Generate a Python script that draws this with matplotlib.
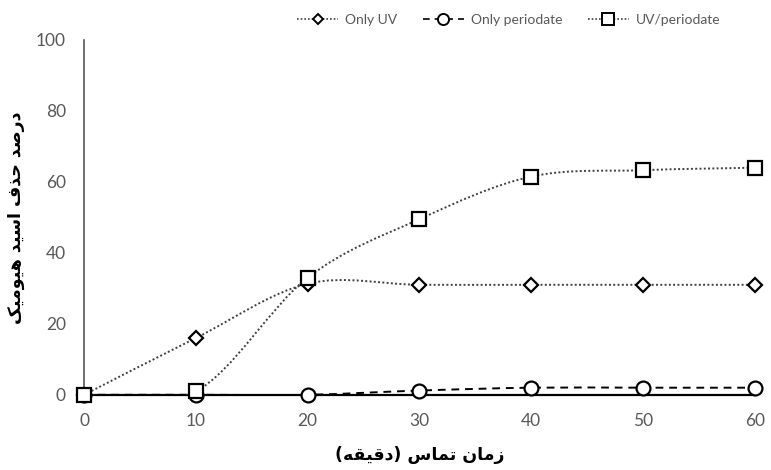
import numpy as np
import matplotlib
matplotlib.use('Agg')
import matplotlib.pyplot as plt
from matplotlib.path import Path
from matplotlib.patches import PathPatch
from matplotlib.lines import Line2D

# data
time_min = [0, 10, 20, 30, 40, 50, 60]
only_uv = [0, 16, 31.3, 31, 31, 31, 31]
only_periodate = [0, 0, 0, 1.2, 2, 2, 2]
uv_periodate = [0, 1, 33, 49.5, 61.5, 63.3, 64]
series_names = ['Only UV', 'Only periodate', 'UV/periodate']

x_title = 'زمان تماس (دقیقه)'
y_title = 'درصد حذف اسید هیومیک'

# minimal arabic/persian shaping: (isolated, final, initial, medial)
FORMS = {
    'ا': ('\uFE8D', '\uFE8E', None, None),
    'د': ('\uFEA9', '\uFEAA', None, None),
    'ذ': ('\uFEAB', '\uFEAC', None, None),
    'ر': ('\uFEAD', '\uFEAE', None, None),
    'ز': ('\uFEAF', '\uFEB0', None, None),
    'و': ('\uFEED', '\uFEEE', None, None),
    'ص': ('\uFEB9', '\uFEBA', '\uFEBB', '\uFEBC'),
    'ح': ('\uFEA1', '\uFEA2', '\uFEA3', '\uFEA4'),
    'ف': ('\uFED1', '\uFED2', '\uFED3', '\uFED4'),
    'س': ('\uFEB1', '\uFEB2', '\uFEB3', '\uFEB4'),
    'ی': ('\uFBFC', '\uFBFD', '\uFBFE', '\uFBFF'),
    'ه': ('\uFEE9', '\uFEEA', '\uFEEB', '\uFEEC'),
    'م': ('\uFEE1', '\uFEE2', '\uFEE3', '\uFEE4'),
    'ک': ('\uFB8E', '\uFB8F', '\uFB90', '\uFB91'),
    'ن': ('\uFEE5', '\uFEE6', '\uFEE7', '\uFEE8'),
    'ت': ('\uFE95', '\uFE96', '\uFE97', '\uFE98'),
    'ق': ('\uFED5', '\uFED6', '\uFED7', '\uFED8'),
}


def shape(text):
    out = []
    for i, c in enumerate(text):
        if c not in FORMS:
            out.append(c)
            continue
        prev = text[i - 1] if i > 0 else None
        nxt = text[i + 1] if i + 1 < len(text) else None
        jp = prev in FORMS and FORMS[prev][2] is not None
        jn = nxt in FORMS and FORMS[c][2] is not None
        iso, fin, ini, med = FORMS[c]
        if jp and jn:
            out.append(med)
        elif jp:
            out.append(fin)
        elif jn:
            out.append(ini)
        else:
            out.append(iso)
    s = ''.join(reversed(out))
    return s.translate(str.maketrans('()', ')('))


def smooth_path(x, y):
    # excel-like smoothed line as cubic bezier segments
    pts = np.column_stack([x, y]).astype(float)
    n = len(pts)
    verts = [pts[0]]
    codes = [Path.MOVETO]
    for i in range(n - 1):
        p0 = pts[i - 1] if i > 0 else pts[i]
        p1 = pts[i]
        p2 = pts[i + 1]
        p3 = pts[i + 2] if i + 2 < n else pts[i + 1]
        verts += [p1 + (p2 - p0) / 6.0, p2 - (p3 - p1) / 6.0, p2]
        codes += [Path.CURVE4] * 3
    return Path(verts, codes)


fig = plt.figure(figsize=(7.71, 4.70), dpi=100)
ax = fig.add_axes([0.109, 0.16, 0.87, 0.755])

styles = [
    (only_uv, (0, (1, 1.2)), 'D', 7.5, '#404040'),
    (only_periodate, (0, (4, 3)), 'o', 10, '#000000'),
    (uv_periodate, (0, (1, 1.2)), 's', 10, '#404040'),
]

handles = []
for (vals, ls, mk, ms, col), name in zip(styles, series_names):
    patch = PathPatch(smooth_path(time_min, vals), fill=False, edgecolor=col,
                      linestyle=ls, linewidth=1.4, zorder=3)
    ax.add_patch(patch)
    ax.plot(time_min, vals, linestyle='none', marker=mk, markersize=ms,
            markerfacecolor='white', markeredgecolor='black',
            markeredgewidth=1.6, clip_on=False, zorder=4)
    handles.append(Line2D([], [], color=col, linestyle=ls, linewidth=1.2,
                          marker=mk, markersize=ms - 2, markerfacecolor='white',
                          markeredgecolor='black', markeredgewidth=1.4,
                          label=name))

ax.set_xlim(0, 60)
ax.set_ylim(0, 100)
ax.set_xticks(time_min)
ax.set_yticks([0, 20, 40, 60, 80, 100])

for s in ['top', 'right']:
    ax.spines[s].set_visible(False)
ax.spines['left'].set_color('#595959')
ax.spines['left'].set_linewidth(1.2)
ax.spines['bottom'].set_color('black')
ax.spines['bottom'].set_linewidth(1.6)
ax.spines['bottom'].set_zorder(2)

ax.tick_params(length=0, labelsize=12.5, labelcolor='#595959', pad=13)
for lab in ax.get_xticklabels() + ax.get_yticklabels():
    lab.set_family('Lato')

ax.set_xlabel(shape(x_title), fontsize=12.5, fontweight='bold',
              family='DejaVu Sans', labelpad=12)
ax.set_ylabel(shape(y_title), fontsize=12.5, fontweight='bold',
              family='DejaVu Sans', labelpad=8)

fig.legend(handles=handles, loc='center', bbox_to_anchor=(0.66, 0.957),
           ncol=3, frameon=False, handlelength=3.0, columnspacing=1.8,
           handletextpad=0.5, prop={'family': 'Lato', 'size': 10},
           labelcolor='#595959')

fig.savefig('out.png', dpi=100)
